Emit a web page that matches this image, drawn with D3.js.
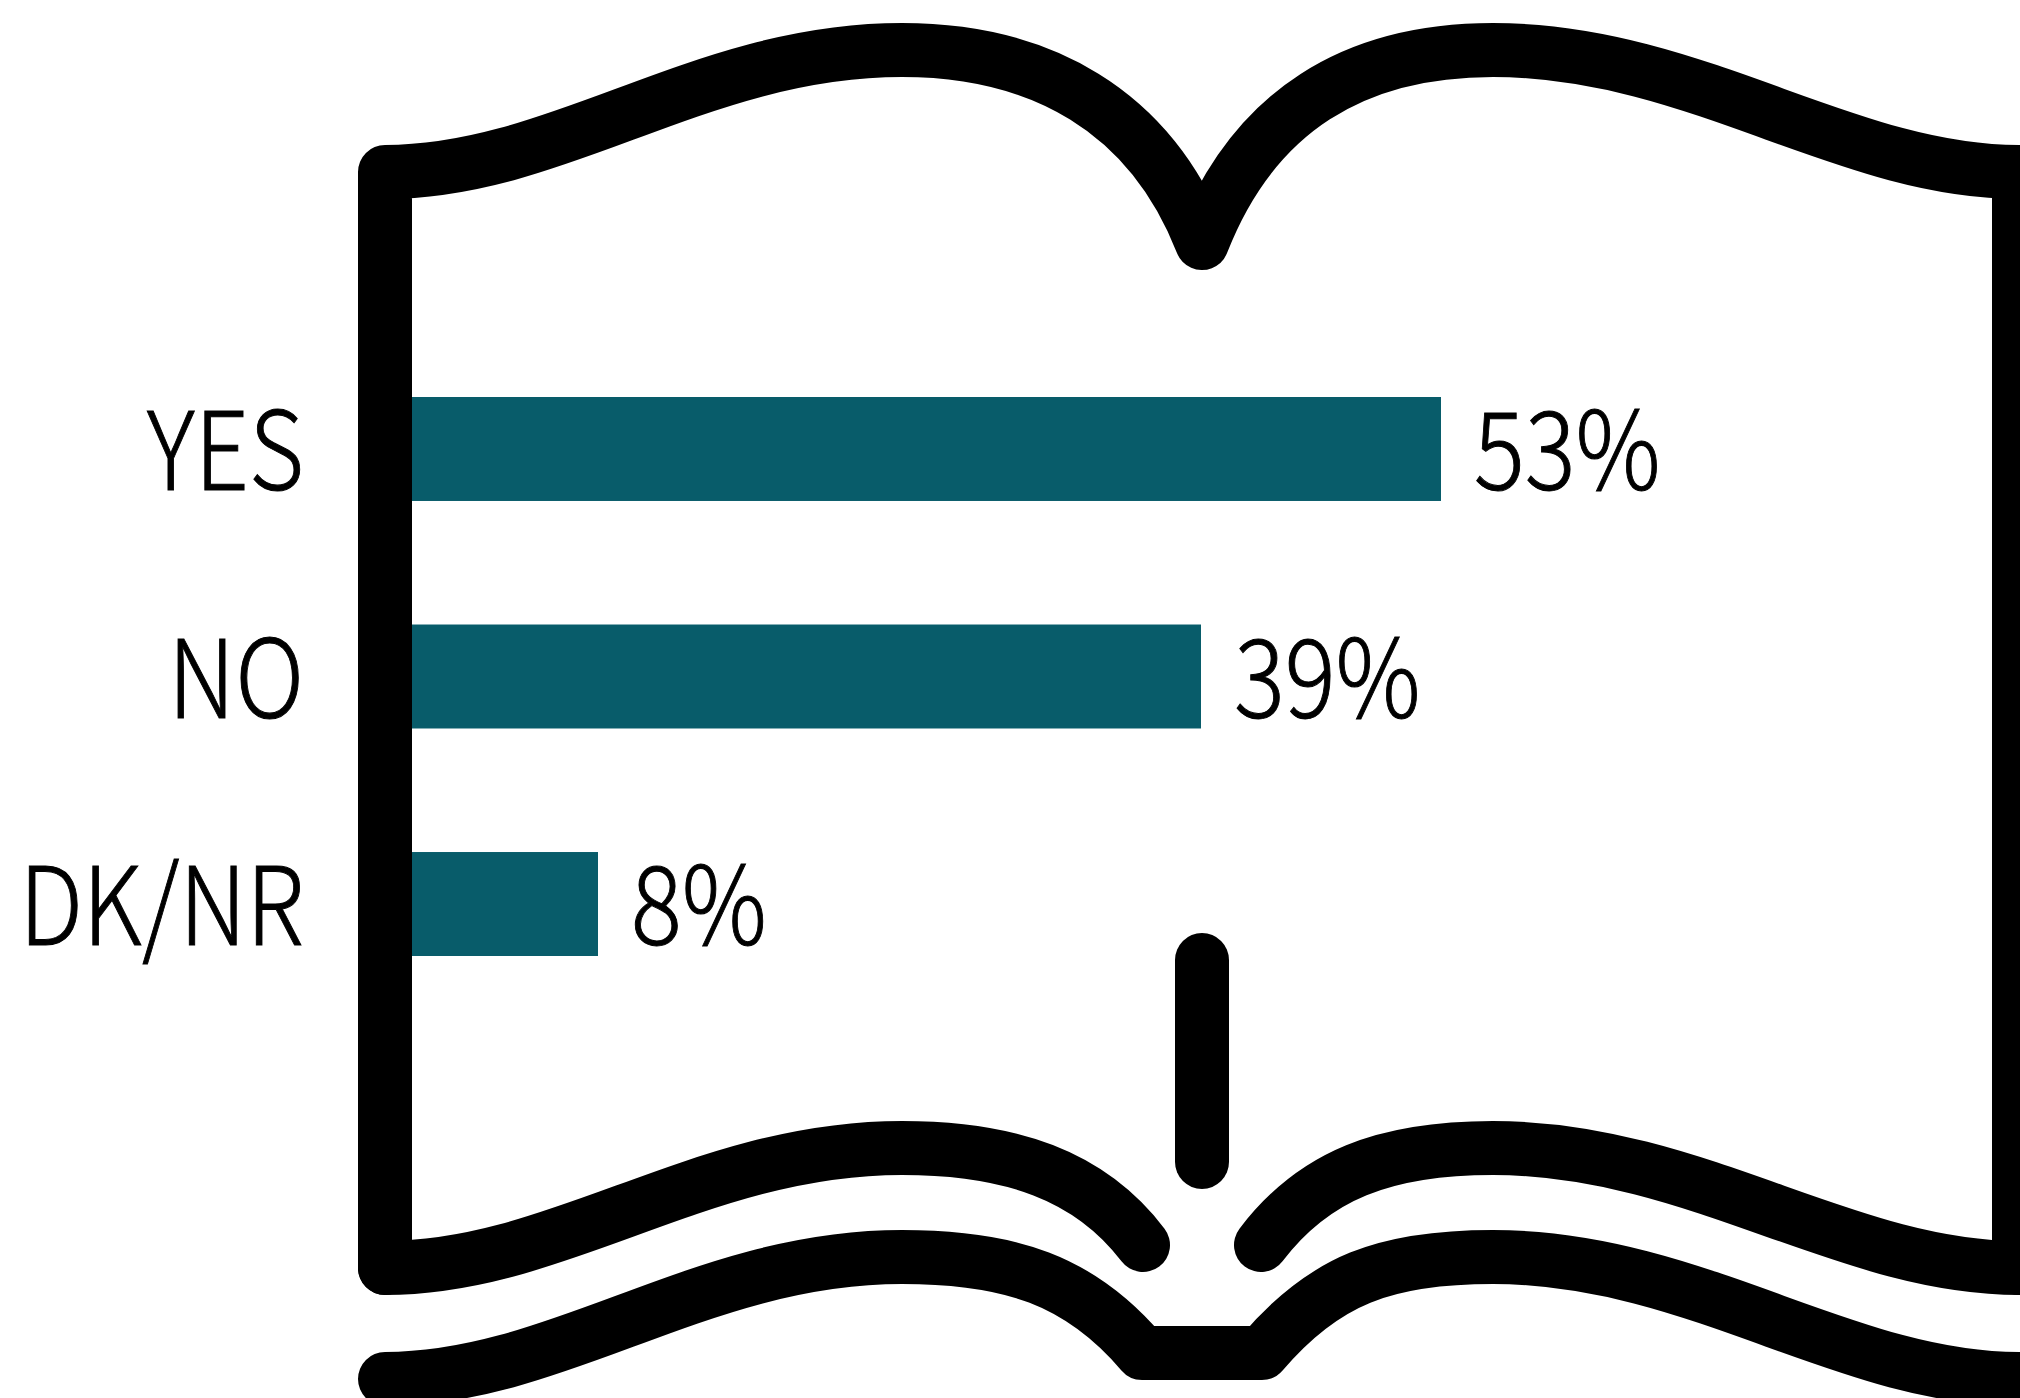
<!DOCTYPE html>
<html>
  <head>
    <meta charset="utf-8">
    <title>Book bar chart</title>
    <style>
      body {
        margin: 0;
        background-color: white;
      }
      svg {
        display: block;
      }
      text {
        font-family: "Noto Sans CJK JP", "Open Sans", sans-serif;
        font-weight: 300;
        font-size: 109px;
        fill: black;
        stroke: black;
        stroke-width: 1px;
      }
    </style>
    <script src="https://d3js.org/d3.v7.min.js"></script>
  </head>
  <body>
    <svg id="chart"></svg>
    <script>
      var categories = ["YES", "NO", "DK/NR"];
      var values = [53, 39, 8];

      var width = 2020;
      var height = 1398;
      var barColor = "#085c6a";
      var strokeWidth = 54;
      var textSquash = 0.87; // the lettering in the picture is condensed
      var baselineShift = 41;

      var svg = d3.select("#chart")
          .attr("width", width)
          .attr("height", height);

      // the printed bars are not strictly proportional to their numbers,
      // so the scale has a stop at each one to stay on the drawn lengths
      var x = d3.scaleLinear().domain([0, 8, 39, 53]).range([412, 598, 1201, 1441]);
      var y = d3.scaleBand().domain(categories).range([397, 956]).paddingInner(0.543);

      svg.selectAll("rect.bar")
        .data(values)
        .enter()
        .append("rect")
        .attr("class", "bar")
        .attr("x", x(0))
        .attr("y", function(d, i) { return y(categories[i]); })
        .attr("width", function(d) { return x(d) - x(0); })
        .attr("height", y.bandwidth())
        .style("fill", barColor);

      svg.selectAll("text.value")
        .data(values)
        .enter()
        .append("text")
        .attr("class", "value")
        .attr("transform", function(d, i) {
          var tx = x(d) + 33;
          var ty = y(categories[i]) + y.bandwidth() / 2 + baselineShift;
          return "translate(" + tx + "," + ty + ") scale(" + textSquash + ",1)";
        })
        .text(function(d) { return d + "%"; });

      var yAxis = svg.append("g")
        .attr("transform", "translate(" + x(0) + ",0)")
        .call(d3.axisLeft(y).tickSize(0));
      yAxis.select(".domain").remove();
      yAxis.attr("font-size", null).attr("font-family", null);
      yAxis.selectAll("text")
        .attr("x", 0)
        .attr("dy", null)
        .attr("transform", "translate(-108," + baselineShift + ") scale(" + textSquash + ",1)");

      // open book drawn around the bars
      var bookPaths = [
        // top edge with the centre dip
        "M385,1268 L385,172 C560,172 700,50 902,50 C1040,50 1150,110 1202,243 C1254,110 1355,50 1493,50 C1695,50 1844,172 2019,172 L2019,1268",
        // lower edge of the pages, left and right
        "M385,1268 C560,1268 700,1148 902,1148 C1010,1148 1090,1175 1143,1245",
        "M2019,1268 C1844,1268 1695,1148 1493,1148 C1385,1148 1314,1175 1261,1245",
        // cover under the pages
        "M385,1379 C560,1379 700,1257 902,1257 C1010,1257 1080,1280 1142,1353 L1262,1353 C1324,1280 1385,1257 1493,1257 C1695,1257 1844,1379 2019,1379",
        // spine
        "M1202,960 L1202,1162"
      ];

      svg.append("g")
        .selectAll("path")
        .data(bookPaths)
        .enter()
        .append("path")
        .attr("d", function(d) { return d; })
        .attr("fill", "none")
        .attr("stroke", "black")
        .attr("stroke-width", strokeWidth)
        .attr("stroke-linecap", "round")
        .attr("stroke-linejoin", "round");
    </script>
  </body>
</html>
